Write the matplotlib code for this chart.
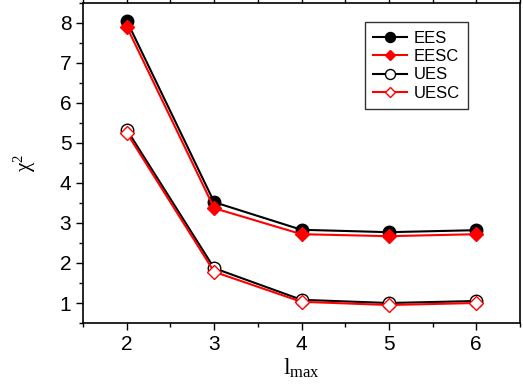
import numpy as np
import matplotlib.pyplot as plt
from matplotlib.ticker import MultipleLocator

lmax = [2, 3, 4, 5, 6]
ees = [8.05, 3.52, 2.83, 2.77, 2.82]
eesc = [7.90, 3.37, 2.72, 2.67, 2.72]
ues = [5.33, 1.87, 1.08, 1.00, 1.05]
uesc = [5.25, 1.78, 1.03, 0.95, 1.00]

plt.rcParams['font.family'] = ['Liberation Sans', 'DejaVu Sans']
plt.rcParams['mathtext.fontset'] = 'custom'
plt.rcParams['mathtext.rm'] = 'Liberation Serif'
plt.rcParams['mathtext.it'] = 'Liberation Serif:italic'

fig = plt.figure(figsize=(5.23, 3.88), dpi=100)
ax = fig.add_axes([0.159, 0.1675, 0.835, 0.825])

ax.plot(lmax, ees, '-o', color='black', mfc='black', mec='black', ms=9, lw=1.5, label='EES')
ax.plot(lmax, eesc, '-D', color='red', mfc='red', mec='red', ms=7, lw=1.5, label='EESC')
ax.plot(lmax, ues, '-o', color='black', mfc='white', mec='black', ms=9, lw=1.5, label='UES')
ax.plot(lmax, uesc, '-D', color='red', mfc='white', mec='red', ms=7, lw=1.5, label='UESC')

ax.set_xlim(1.5, 6.5)
ax.set_ylim(0.5, 8.5)
ax.xaxis.set_major_locator(MultipleLocator(1))
ax.xaxis.set_minor_locator(MultipleLocator(0.5))
ax.yaxis.set_major_locator(MultipleLocator(1))
ax.yaxis.set_minor_locator(MultipleLocator(0.5))
ax.tick_params(which='both', direction='out', top=True, right=False, labelsize=15, width=1)
ax.tick_params(which='major', length=5)
ax.tick_params(which='minor', length=3)
for s in ax.spines.values():
    s.set_linewidth(1.2)

ax.set_xlabel(r'$\mathrm{l}_{\mathrm{max}}$', fontsize=17, labelpad=2)
ax.set_ylabel(r'$\mathrm{\chi}^{2}$', fontsize=15, labelpad=16)

leg = ax.legend(loc='upper right', bbox_to_anchor=(0.9, 0.965), fontsize=12, frameon=True,
                fancybox=False, edgecolor='black', handlelength=2.0, borderpad=0.5,
                labelspacing=0.2, handletextpad=0.4, markerscale=0.8)
leg.get_frame().set_linewidth(1)

fig.savefig('out.png', dpi=100)
